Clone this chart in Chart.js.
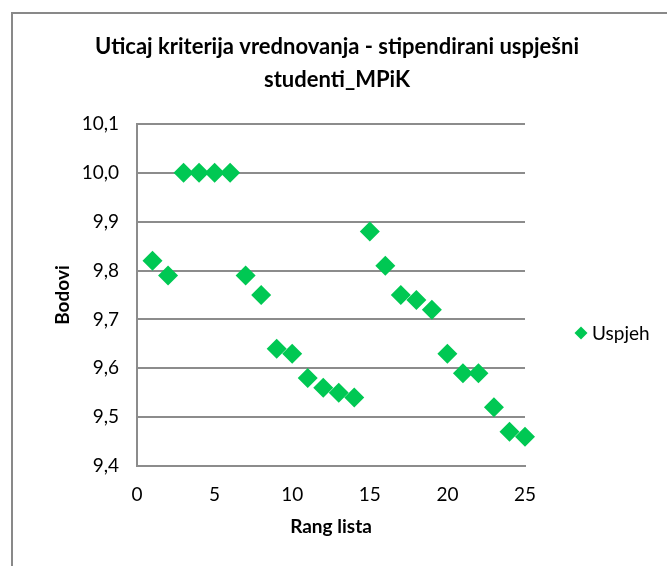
<!DOCTYPE html>
<meta charset="utf-8">
<html lang="bs">
<head>
  <script src="https://cdn.jsdelivr.net/npm/chart.js@4/dist/chart.umd.min.js"></script>
  <style>
    html, body { margin: 0; padding: 0; background: #fff; }
    #wrap { position: relative; width: 667px; height: 566px; overflow: hidden; }
    #frame { position: absolute; left: 11px; top: 12px; width: 700px; height: 600px;
             border: 2px solid #898989; box-sizing: border-box; }
    #chart { position: absolute; left: 0; top: 0; }
  </style>
</head>
<body>
<div id="wrap">
  <div id="frame"></div>
  <canvas id="chart" width="667" height="566"></canvas>
</div>
<script>
// podaci sa grafika
var rangLista = [1, 2, 3, 4, 5, 6, 7, 8, 9, 10, 11, 12, 13, 14, 15, 16, 17, 18, 19, 20, 21, 22, 23, 24, 25];
var bodovi = [9.82, 9.79, 10.0, 10.0, 10.0, 10.0, 9.79, 9.75, 9.64, 9.63, 9.58, 9.56, 9.55, 9.54,
              9.88, 9.81, 9.75, 9.74, 9.72, 9.63, 9.59, 9.59, 9.52, 9.47, 9.46];
var seriesName = 'Uspjeh';
var titleLines = ['Uticaj kriterija vrednovanja - stipendirani uspješni', 'studenti_MPiK'];
var xTitle = 'Rang lista';
var yTitle = 'Bodovi';

var green = 'rgb(0,200,83)';
var gridGray = '#8c8c8c';
var fontFam = 'Lato, "Open Sans", sans-serif';

var points = rangLista.map(function(r, i) { return {x: r, y: bodovi[i]}; });

// naslov i legenda crtaju se rucno da bi bili centrirani kao u Excelu
var excelBits = {
  id: 'excelBits',
  afterDraw: function(chart) {
    var ctx = chart.ctx;
    var ds = chart.data.datasets[0];
    ctx.save();
    ctx.fillStyle = '#000';
    ctx.textAlign = 'center';
    ctx.textBaseline = 'middle';
    ctx.font = 'bold 22px ' + fontFam;
    titleLines.forEach(function(t, i) {
      ctx.fillText(t, 337, 47 + i * 33);
    });

    var cx = 581, cy = 333, r = 6.5;
    ctx.fillStyle = ds.backgroundColor;
    ctx.beginPath();
    ctx.moveTo(cx, cy - r);
    ctx.lineTo(cx + r, cy);
    ctx.lineTo(cx, cy + r);
    ctx.lineTo(cx - r, cy);
    ctx.closePath();
    ctx.fill();
    ctx.fillStyle = '#000';
    ctx.font = '19px ' + fontFam;
    ctx.textAlign = 'left';
    ctx.fillText(ds.label, 592, cy + 1);
    ctx.restore();
  }
};

new Chart(document.getElementById('chart'), {
  type: 'scatter',
  data: {
    datasets: [{
      label: seriesName,
      data: points,
      pointStyle: 'rectRot',
      pointRadius: 10,
      pointHoverRadius: 10,
      backgroundColor: green,
      borderColor: green,
      borderWidth: 0,
      clip: false
    }]
  },
  options: {
    responsive: false,
    animation: false,
    layout: { padding: { top: 124, right: 142, bottom: 0, left: 0 } },
    plugins: {
      legend: { display: false },
      tooltip: { enabled: false },
      title: { display: false }
    },
    scales: {
      x: {
        type: 'linear',
        min: 0,
        max: 25,
        ticks: { stepSize: 5, padding: 17, color: '#000', font: { family: fontFam, size: 19 } },
        grid: { display: false, drawTicks: false },
        border: { display: true, color: gridGray, width: 2 },
        title: { display: true, text: xTitle, color: '#000',
                 font: { family: fontFam, size: 19, weight: 'bold' }, padding: { top: 0, bottom: 28 } },
        afterFit: function(s) { s.height = 100; }
      },
      y: {
        min: 9.4,
        max: 10.1,
        ticks: {
          stepSize: 0.1, padding: 18, color: '#000', font: { family: fontFam, size: 19 },
          callback: function(v) { return v.toFixed(1).replace('.', ','); }
        },
        grid: { color: gridGray, lineWidth: 2, drawTicks: false },
        border: { display: true, color: gridGray, width: 2 },
        title: { display: true, text: yTitle, color: '#000',
                 font: { family: fontFam, size: 19, weight: 'bold' }, padding: { top: 51, bottom: 0 } },
        afterFit: function(s) { s.width = 137; }
      }
    }
  },
  plugins: [excelBits]
});
</script>
</body>
</html>
